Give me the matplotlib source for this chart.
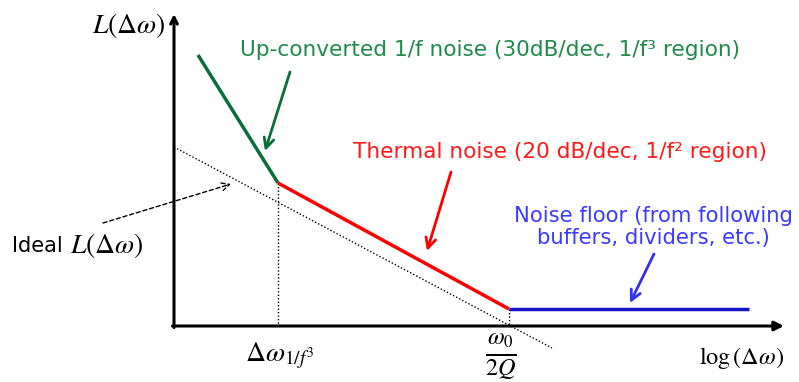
import matplotlib.pyplot as plt

plt.rcParams["mathtext.fontset"] = "stix"

# schematic coordinates (image-like units: x to the right, y downward)
green_x = [198, 278]
green_y = [55, 183]
red_x = [278, 509]
red_y = [183, 309]
blue_x = [509, 749]
blue_y = [309, 309]
ideal_x = [174, 552]
ideal_y = [147, 348]
corner_x = [278, 509]
corner_top = [183, 309]
axis_y0 = 326
axis_x0 = 174

fig = plt.figure(figsize=(7.99, 3.82), dpi=100)
ax = fig.add_axes([0, 0, 1, 1])
ax.set_xlim(0, 799)
ax.set_ylim(382, 0)
ax.axis("off")

# axes with arrows
ax.annotate("", xy=(axis_x0, 14), xytext=(axis_x0, axis_y0 + 1.5),
            arrowprops=dict(arrowstyle="->", lw=2.2, color="black",
                            shrinkA=0, shrinkB=0, mutation_scale=12))
ax.annotate("", xy=(784, axis_y0), xytext=(axis_x0 - 1.5, axis_y0),
            arrowprops=dict(arrowstyle="-|>", lw=2.2, color="black",
                            shrinkA=0, shrinkB=0, mutation_scale=14))

# ideal curve and guides
ax.plot(ideal_x, ideal_y, color="black", lw=1, ls=(0, (1, 1.5)))
for cx, ct in zip(corner_x, corner_top):
    ax.plot([cx, cx], [ct, axis_y0], color="black", lw=1, ls=(0, (1, 1.5)))

# noise regions
ax.plot(green_x, green_y, color="#0a6e3a", lw=2.5, solid_capstyle="butt")
ax.plot(red_x, red_y, color="#ff0000", lw=2.5, solid_capstyle="butt")
ax.plot(blue_x, blue_y, color="#1414c8", lw=2.5, solid_capstyle="butt")

# annotation arrows
ax.annotate("", xy=(265, 151), xytext=(290, 72),
            arrowprops=dict(arrowstyle="->", lw=2, color="#0a6e3a",
                            mutation_scale=18, shrinkA=0, shrinkB=0))
ax.annotate("", xy=(427, 251), xytext=(451, 172),
            arrowprops=dict(arrowstyle="->", lw=2, color="#ff0000",
                            mutation_scale=18, shrinkA=0, shrinkB=0))
ax.annotate("", xy=(630, 303), xytext=(654, 254),
            arrowprops=dict(arrowstyle="->", lw=2, color="#3333ee",
                            mutation_scale=18, shrinkA=0, shrinkB=0))
ax.annotate("", xy=(231, 184), xytext=(103, 223),
            arrowprops=dict(arrowstyle="->", lw=1, color="black", ls=(0, (3, 2)),
                            mutation_scale=14, shrinkA=0, shrinkB=0))

# labels
ax.text(166, 26, r"$L\left(\Delta\omega\right)$", fontsize=20, ha="right", va="center")
ax.text(240, 50, "Up-converted 1/f noise (30dB/dec, 1/f\u00b3 region)",
        color="#1f8a4c", fontsize=15.6, ha="left", va="center")
ax.text(353, 152, "Thermal noise (20 dB/dec, 1/f\u00b2 region)",
        color="#ff1a1a", fontsize=15.6, ha="left", va="center")
ax.text(653, 227, "Noise floor (from following\nbuffers, dividers, etc.)",
        color="#3a3aff", fontsize=15.2, ha="center", va="center", linespacing=1.1)
ax.text(12, 246, "Ideal", fontsize=15, ha="left", va="center")
ax.text(70, 246, r"$L\left(\Delta\omega\right)$", fontsize=20, ha="left", va="center")
ax.text(280, 356, r"$\Delta\omega_{1/f^3}$", fontsize=20, ha="center", va="center")
ax.text(501, 357, r"$\frac{\omega_0}{2Q}$", fontsize=25, ha="center", va="center")
ax.text(784, 358, r"$\log\left(\Delta\omega\right)$", fontsize=17.5, ha="right", va="center")

fig.savefig("out.png", dpi=100)
